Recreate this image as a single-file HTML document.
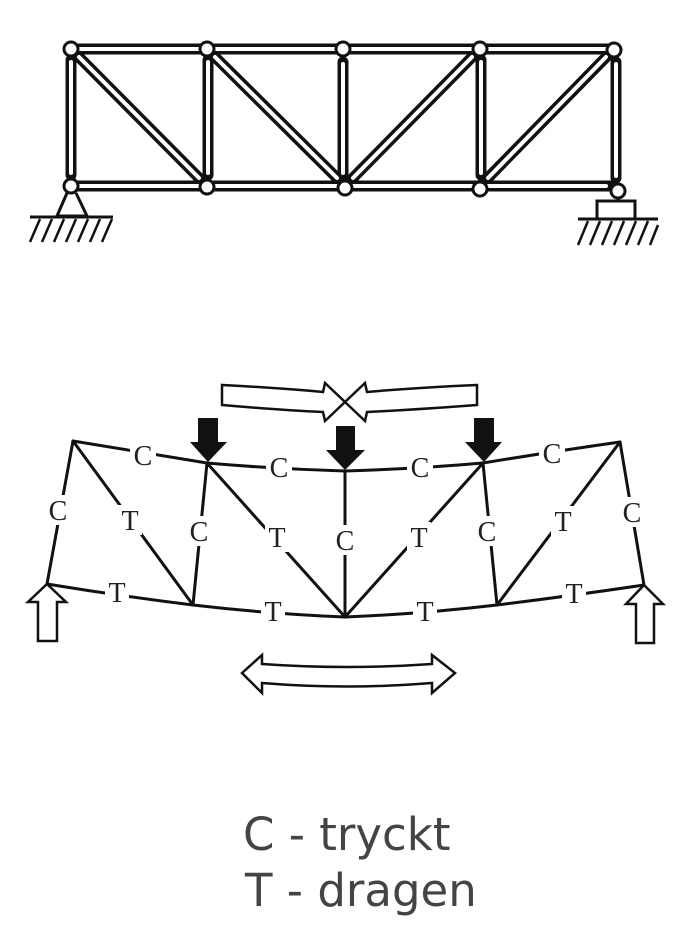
<!DOCTYPE html>
<html><head><meta charset="utf-8"><style>
html,body{margin:0;padding:0;background:#fff;}
svg{display:block;}
.lbl{font-family:"Liberation Serif",serif;font-size:28px;fill:#222;text-anchor:middle;}
.hand{font-family:"DejaVu Sans","Liberation Sans",sans-serif;font-size:45px;fill:#444;}
</style></head><body>
<svg width="693" height="928" viewBox="0 0 693 928" xmlns="http://www.w3.org/2000/svg">
<!-- TOP TRUSS -->
<g stroke-linecap="round">
 <g stroke="#111" stroke-width="11">
  <line x1="71" y1="49" x2="207" y2="49"/><line x1="207" y1="49" x2="343" y2="49"/>
  <line x1="343" y1="49" x2="480" y2="49"/><line x1="480" y1="49" x2="614" y2="49"/>
  <line x1="71" y1="186" x2="207" y2="186"/><line x1="207" y1="186" x2="345" y2="186"/>
  <line x1="345" y1="186" x2="480" y2="186"/><line x1="480" y1="186" x2="614" y2="186"/>
  <line x1="71" y1="60" x2="71" y2="175"/><line x1="208" y1="60" x2="208" y2="175"/>
  <line x1="343" y1="62" x2="343" y2="175"/><line x1="481" y1="60" x2="481" y2="175"/>
  <line x1="616" y1="62" x2="616" y2="178"/>
  <line x1="71" y1="49" x2="207" y2="186"/><line x1="207" y1="49" x2="345" y2="186"/>
  <line x1="480" y1="49" x2="345" y2="186"/><line x1="614" y1="49" x2="480" y2="186"/>
 </g>
 <g stroke="#fff" stroke-width="4">
  <line x1="79" y1="49" x2="199" y2="49"/><line x1="215" y1="49" x2="335" y2="49"/>
  <line x1="351" y1="49" x2="472" y2="49"/><line x1="488" y1="49" x2="606" y2="49"/>
  <line x1="79" y1="186" x2="199" y2="186"/><line x1="215" y1="186" x2="337" y2="186"/>
  <line x1="353" y1="186" x2="472" y2="186"/><line x1="488" y1="186" x2="606" y2="186"/>
  <line x1="71" y1="62" x2="71" y2="173"/><line x1="208" y1="62" x2="208" y2="173"/>
  <line x1="343" y1="64" x2="343" y2="173"/><line x1="481" y1="62" x2="481" y2="173"/>
  <line x1="616" y1="64" x2="616" y2="176"/>
  <line x1="79" y1="57" x2="199" y2="178"/><line x1="215" y1="57" x2="337" y2="178"/>
  <line x1="472" y1="57" x2="353" y2="178"/><line x1="606" y1="57" x2="488" y2="178"/>
 </g>
</g>
<g fill="#fff" stroke="#111" stroke-width="3">
 <circle cx="71" cy="49" r="7"/><circle cx="207" cy="49" r="7"/><circle cx="343" cy="49" r="7"/>
 <circle cx="480" cy="49" r="7"/><circle cx="614" cy="50" r="7"/>
 <circle cx="71" cy="186" r="7"/><circle cx="207" cy="187" r="7"/><circle cx="345" cy="188" r="7"/>
 <circle cx="480" cy="189" r="7"/><circle cx="618" cy="191" r="7"/>
</g>
<!-- supports -->
<g stroke="#111" stroke-width="3" fill="none">
 <polyline points="67,193 57,216 87,216 76,193"/>
 <line x1="30" y1="217" x2="113" y2="217"/>
 <rect x="597" y="201" width="38" height="18" fill="#fff"/>
 <line x1="578" y1="219" x2="658" y2="219"/>
</g>
<g stroke="#111" stroke-width="2.5">
 <line x1="40" y1="219" x2="30" y2="242"/><line x1="52" y1="219" x2="42" y2="242"/>
 <line x1="64" y1="219" x2="54" y2="242"/><line x1="76" y1="219" x2="66" y2="242"/>
 <line x1="88" y1="219" x2="78" y2="242"/><line x1="100" y1="219" x2="90" y2="242"/>
 <line x1="112" y1="219" x2="102" y2="242"/>
 <line x1="588" y1="221" x2="578" y2="245"/><line x1="600" y1="221" x2="590" y2="245"/>
 <line x1="612" y1="221" x2="602" y2="245"/><line x1="624" y1="221" x2="614" y2="245"/>
 <line x1="636" y1="221" x2="626" y2="245"/><line x1="648" y1="221" x2="638" y2="245"/>
 <line x1="658" y1="225" x2="650" y2="245"/>
</g>

<!-- BOTTOM DIAGRAM -->
<g fill="#fff" stroke="#111" stroke-width="2.5" stroke-linejoin="miter">
 <path d="M222,385 Q280,388 323,392 L325,383 L345,402 L325,421 L323,412 Q280,410 222,405 Z"/>
 <path d="M477,385 Q410,388 367,392 L365,383 L345,402 L365,421 L367,412 Q410,410 477,405 Z"/>
 <path d="M242,673 L262,655 L262,664 Q347,670 432,664 L432,655 L455,673 L432,693 L432,683 Q347,690 262,683 L262,693 Z"/>
 <path d="M47,584 L66,602 L57,602 L57,641 L38,641 L38,602 L28,602 Z"/>
 <path d="M644,585 L663,604 L654,604 L654,643 L636,643 L636,604 L626,604 Z"/>
</g>
<g stroke="#111" stroke-width="3" fill="none" stroke-linecap="round">
 <path d="M73,441 Q140,452 207,463 Q276,469 345,471 Q414,469 483,463 Q550,452 620,442"/>
 <path d="M47,584 Q120,596 193,605 Q270,614 345,617 Q420,614 497,605 Q570,596 644,585"/>
 <line x1="73" y1="441" x2="47" y2="584"/>
 <line x1="73" y1="441" x2="193" y2="605"/>
 <line x1="207" y1="463" x2="193" y2="605"/>
 <line x1="207" y1="463" x2="345" y2="617"/>
 <line x1="345" y1="471" x2="345" y2="617"/>
 <line x1="483" y1="463" x2="345" y2="617"/>
 <line x1="483" y1="463" x2="497" y2="605"/>
 <line x1="620" y1="442" x2="497" y2="605"/>
 <line x1="620" y1="442" x2="644" y2="585"/>
</g>
<g fill="#111">
 <path d="M198,418 L218,418 L218,442 L227,442 L208,462 L190,442 L198,442 Z"/>
 <path d="M336,426 L355,426 L355,450 L365,450 L345,470 L326,450 L336,450 Z"/>
 <path d="M474,418 L494,418 L494,442 L502,442 L484,462 L465,442 L474,442 Z"/>
</g>
<!-- label backgrounds -->
<g fill="#fff">
 <rect x="130" y="440" width="26" height="30"/><rect x="266" y="452" width="26" height="30"/>
 <rect x="407" y="452" width="26" height="30"/><rect x="539" y="438" width="26" height="30"/>
 <rect x="45" y="495" width="26" height="30"/><rect x="118" y="505" width="24" height="30"/>
 <rect x="186" y="516" width="26" height="30"/><rect x="265" y="522" width="24" height="30"/>
 <rect x="332" y="525" width="26" height="30"/><rect x="407" y="522" width="24" height="30"/>
 <rect x="474" y="516" width="26" height="30"/><rect x="551" y="506" width="24" height="30"/>
 <rect x="619" y="497" width="26" height="30"/>
 <rect x="105" y="577" width="24" height="30"/><rect x="261" y="596" width="24" height="30"/>
 <rect x="413" y="596" width="24" height="30"/><rect x="562" y="578" width="24" height="30"/>
</g>
<g class="lbl">
 <text x="143" y="465">C</text><text x="279" y="477">C</text><text x="420" y="477">C</text><text x="552" y="463">C</text>
 <text x="58" y="520">C</text><text x="130" y="530">T</text><text x="199" y="541">C</text><text x="277" y="547">T</text>
 <text x="345" y="550">C</text><text x="419" y="547">T</text><text x="487" y="541">C</text><text x="563" y="531">T</text>
 <text x="632" y="522">C</text>
 <text x="117" y="602">T</text><text x="273" y="621">T</text><text x="425" y="621">T</text><text x="574" y="603">T</text>
</g>
<text class="hand" x="243" y="850">C - tryckt</text>
<text class="hand" x="245" y="906">T - dragen</text>
</svg>
</body></html>
